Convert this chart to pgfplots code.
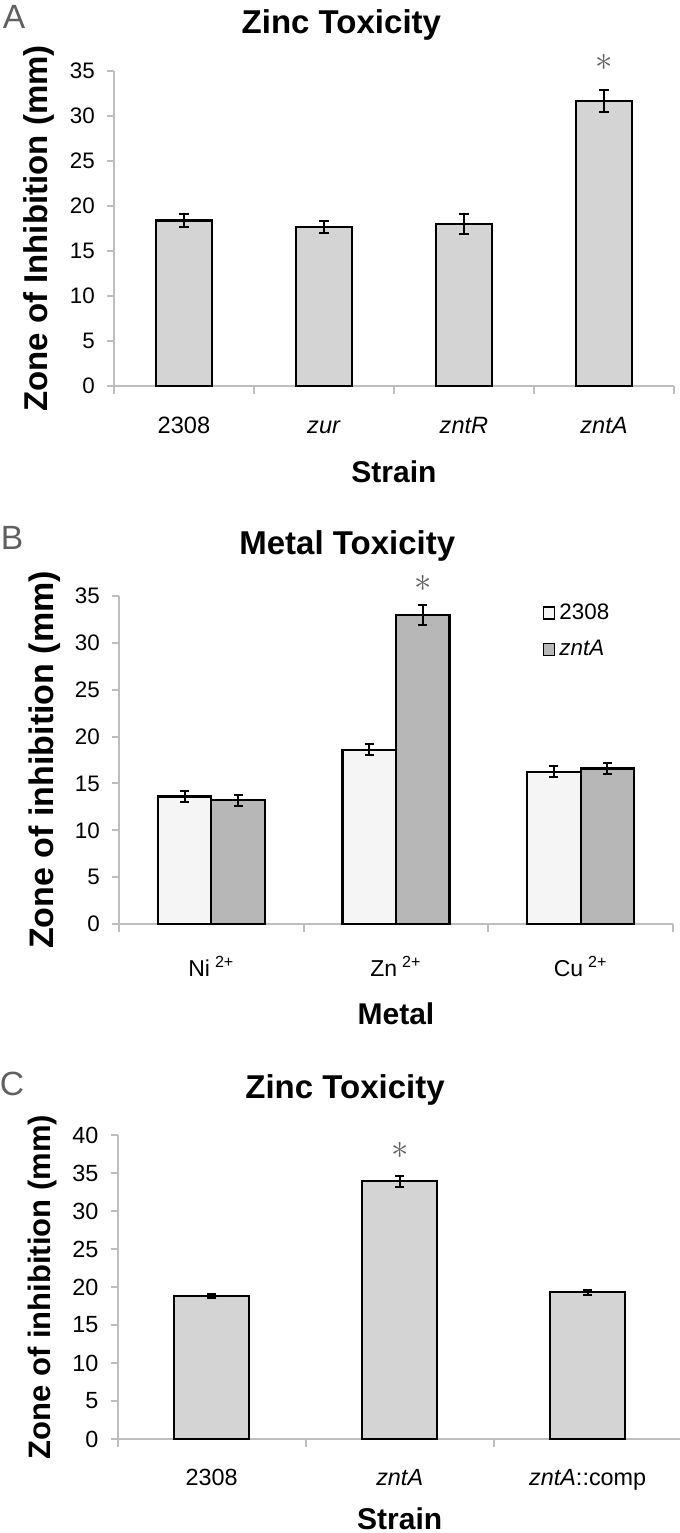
\documentclass[border=0pt]{standalone}
\usepackage{fontspec}
\setmainfont{Liberation Sans}
\usepackage{pgfplots}
\pgfplotsset{compat=1.18}
\definecolor{axgray}{RGB}{190,190,190}
\definecolor{barA}{RGB}{212,212,212}
\definecolor{barlight}{RGB}{245,245,245}
\definecolor{bardark}{RGB}{183,183,183}
\definecolor{stargray}{RGB}{96,96,96}

\tikzset{sigstar/.style={font=\fontsize{18}{18}\selectfont, text=stargray, inner sep=0pt}}

\pgfplotsset{
  panel/.style={
    scale only axis, axis lines*=left, enlargelimits=false, clip=false,
    axis line style={draw=axgray, line width=1pt},
    tick style={draw=axgray, line width=1pt},
    tick align=outside,
    major tick length=3.5pt, minor tick length=4pt,
    major x tick style={draw=none},
    ymin=0,
    /pgf/number format/assume math mode=true,
    yticklabel style={font=\fontsize{11.2}{13}\selectfont, anchor=east, xshift=-2.6pt},
    xticklabel style={font=\fontsize{11.8}{13}\selectfont, anchor=base},
    ylabel style={at={(axis description cs:-0.134,0.5)}, anchor=center, font=\fontsize{16}{18}\selectfont\bfseries},
    xlabel style={at={(axis description cs:0.5,-0.272)}, anchor=center, font=\fontsize{15}{17}\selectfont\bfseries},
    error bars/error bar style={black, line width=1pt},
    error bars/error mark options={rotate=90, mark size=2.3pt, line width=1pt, black},
  },
  gbar/.style={draw=black, line width=1.1pt, error bars/y dir=both, error bars/y explicit},
}

\begin{document}
\begin{tikzpicture}
\useasboundingbox (0,0) rectangle (340pt,-766.5pt);

% panel labels
\node[font=\fontsize{16.8}{18}\selectfont, text=stargray] at (7pt,-8.5pt) {A};
\node[font=\fontsize{16.8}{18}\selectfont, text=stargray] at (6pt,-269pt) {B};
\node[font=\fontsize{16.8}{18}\selectfont, text=stargray] at (6pt,-542pt) {C};

% A: Zinc toxicity, four strains
\begin{axis}[panel,
  at={(57pt,-193pt)}, anchor=south west,
  width=280pt, height=157.5pt,
  xmin=-0.5, xmax=3.5, ymax=35,
  ytick={0,5,...,35},
  xtick={0,1,2,3},
  xticklabels={2308,\textit{zur},\textit{zntR},\textit{zntA}},
  minor xtick={-0.5,0.5,1.5,2.5,3.5},
  xticklabel style={yshift=-20pt},
  ybar, bar width=0.4,
  title={Zinc Toxicity},
  every axis title/.style={at={(axis description cs:0.406,1.146)}, anchor=center, inner sep=0pt,
    font=\fontsize{16.5}{18}\selectfont\bfseries},
  xlabel={Strain},
  ylabel={Zone of Inhibition (mm)},
  ylabel style={font=\fontsize{16.5}{18}\selectfont\bfseries},
]
\addplot[gbar, fill=barA] coordinates {
  (0,18.4) +- (0,0.7)
  (1,17.7) +- (0,0.65)
  (2,18.0) +- (0,1.1)
  (3,31.7) +- (0,1.2)
};
\node[sigstar] at (axis cs:3,35.9) {$\ast$};
\end{axis}

% B: Metal toxicity, two strains
\begin{axis}[panel,
  at={(59.5pt,-462pt)}, anchor=south west,
  width=277pt, height=164pt,
  xmin=-0.5, xmax=2.5, ymax=35,
  ytick={0,5,...,35},
  xtick={0,1,2},
  xticklabels={Ni\hspace{2.5pt}\textsuperscript{2+},Zn\hspace{2.5pt}\textsuperscript{2+},Cu\hspace{2.5pt}\textsuperscript{2+}},
  xticklabel style={font=\fontsize{11.5}{13}\selectfont, yshift=-22.5pt},
  minor xtick={-0.5,0.5,1.5,2.5},
  ybar=0pt, bar width=0.29,
  title={Metal Toxicity},
  every axis title/.style={at={(axis description cs:0.412,1.152)}, anchor=center, inner sep=0pt,
    font=\fontsize{16.5}{18}\selectfont\bfseries},
  xlabel={Metal},
  xlabel style={at={(axis description cs:0.5,-0.274)}},
  ylabel={Zone of inhibition (mm)},
  ylabel style={font=\fontsize{17}{19}\selectfont\bfseries},
  legend style={draw=none, fill=none, at={(0.764,0.99)}, anchor=north west,
    font=\fontsize{11.2}{13}\selectfont, row sep=5pt, inner sep=0pt},
  legend cell align=left,
]
\addplot[gbar, fill=barlight,
  legend image code/.code={\draw[fill=barlight, draw=black, line width=0.9pt] (0pt,-3pt) rectangle (5.5pt,3pt);}]
  coordinates {
  (0,13.6) +- (0,0.6)
  (1,18.6) +- (0,0.6)
  (2,16.25) +- (0,0.6)
};
\addplot[gbar, fill=bardark,
  legend image code/.code={\draw[fill=bardark, draw=black, line width=0.9pt] (0pt,-3pt) rectangle (5.5pt,3pt);}]
  coordinates {
  (0,13.2) +- (0,0.6)
  (1,33.0) +- (0,1.05)
  (2,16.6) +- (0,0.6)
};
\legend{2308,\textit{zntA}}
\node[sigstar] at (axis cs:1.145,36.3) {$\ast$};
\end{axis}

% C: Zinc toxicity with complementation
\begin{axis}[panel,
  at={(58.85pt,-719.5pt)}, anchor=south west,
  width=282pt, height=152pt,
  xmin=-0.5, xmax=2.5, ymax=40,
  ytick={0,5,...,40},
  yticklabel style={font=\fontsize{11.7}{13}\selectfont},
  xtick={0,1,2},
  xticklabels={2308,\textit{zntA},\textit{zntA}::comp},
  xticklabel style={font=\fontsize{11.7}{13}\selectfont, yshift=-19.5pt},
  minor xtick={-0.5,0.5,1.5,2.5},
  ybar, bar width=0.4,
  title={Zinc Toxicity},
  every axis title/.style={at={(axis description cs:0.403,1.148)}, anchor=center, inner sep=0pt,
    font=\fontsize{16.5}{18}\selectfont\bfseries},
  xlabel={Strain},
  xlabel style={at={(axis description cs:0.5,-0.262)}, inner sep=0pt},
  ylabel={Zone of inhibition (mm)},
  ylabel style={font=\fontsize{15.5}{17}\selectfont\bfseries},
]
\addplot[gbar, fill=barA] coordinates {
  (0,18.8) +- (0,0.3)
  (1,33.9) +- (0,0.75)
  (2,19.3) +- (0,0.3)
};
\node[sigstar] at (axis cs:1,38.0) {$\ast$};
\end{axis}
\end{tikzpicture}
\end{document}
